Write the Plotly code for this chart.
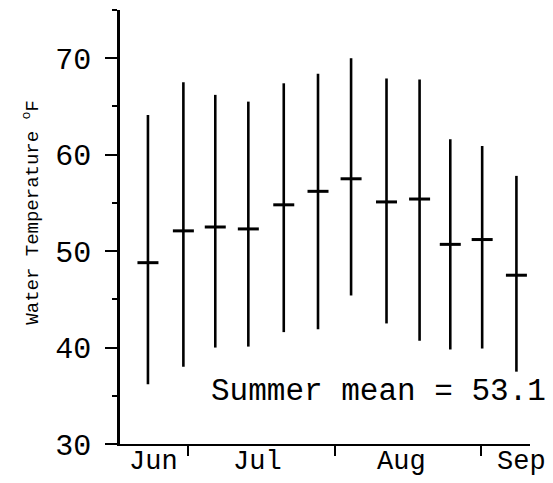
import plotly.graph_objects as go

# Weekly sampling dates (approximate)
dates = ["1965-06-22 12:00", "1965-06-30 00:00", "1965-07-06 18:00", "1965-07-13 18:00",
         "1965-07-21 06:00", "1965-07-28 12:00", "1965-08-04 12:00", "1965-08-12 00:00",
         "1965-08-19 00:00", "1965-08-25 12:00", "1965-09-01 06:00", "1965-09-08 12:00"]
temp_max = [64.1, 67.5, 66.2, 65.5, 67.4, 68.4, 70.0, 67.9, 67.8, 61.6, 60.9, 57.8]
temp_mean = [48.8, 52.1, 52.5, 52.3, 54.8, 56.2, 57.5, 55.1, 55.4, 50.7, 51.2, 47.5]
temp_min = [36.2, 38.0, 40.0, 40.1, 41.6, 41.9, 45.4, 42.5, 40.7, 39.8, 39.9, 37.5]

month_labels = ["Jun", "Jul", "Aug", "Sep"]
month_label_pos = ["1965-06-23 14:00", "1965-07-15 18:00", "1965-08-15 06:00", "1965-09-09 12:00"]
month_bounds = ["1965-07-01", "1965-08-01", "1965-09-01"]
y_ticks = [30, 40, 50, 60, 70]
summer_mean = 53.1

FONT = "Liberation Mono, Courier New, monospace"

fig = go.Figure()
fig.add_trace(go.Scatter(
    x=dates, y=temp_mean, mode="markers",
    marker=dict(symbol="line-ew", size=15, line=dict(width=3, color="black"), color="black"),
    error_y=dict(type="data", symmetric=False,
                 array=[h - m for h, m in zip(temp_max, temp_mean)],
                 arrayminus=[m - l for m, l in zip(temp_mean, temp_min)],
                 color="black", thickness=2.6, width=0),
    showlegend=False, cliponaxis=False,
))

fig.update_layout(
    width=545, height=475,
    margin=dict(l=112, r=23, t=2, b=39),
    paper_bgcolor="white", plot_bgcolor="white",
    font=dict(family=FONT, color="black"),
    xaxis=dict(
        type="date", range=["1965-06-16 14:00", "1965-09-11 09:00"], automargin=False,
        showgrid=False, zeroline=False, showline=True, linecolor="black", linewidth=2,
        tickmode="array", tickvals=month_bounds, ticktext=["", "", ""],
        ticks="outside", ticklen=10, tickwidth=2, tickcolor="black",
    ),
    yaxis=dict(
        range=[30, 75], showgrid=False, zeroline=False, showline=True, automargin=False,
        linecolor="black", linewidth=2.5,
        tickmode="array", tickvals=y_ticks, ticktext=[str(v) for v in y_ticks],
        ticks="outside", ticklen=12, tickwidth=2, tickcolor="black",
        tickfont=dict(size=30, family=FONT), ticklabelstandoff=8,
        minor=dict(tickvals=[35, 45, 55, 65, 75], ticks="outside", ticklen=5,
                   tickwidth=2, tickcolor="black"),
    ),
)

fig.add_annotation(x=-0.215, y=0.535, xref="paper", yref="paper",
                   text="Water Temperature <sup>o</sup>F", showarrow=False, textangle=-90,
                   xanchor="center", yanchor="middle",
                   font=dict(size=19, family=FONT, color="black"))

for lab, pos in zip(month_labels, month_label_pos):
    fig.add_annotation(x=pos, y=0, xref="x", yref="paper", text=lab, showarrow=False,
                       xanchor="center", yanchor="top", yshift=-1,
                       font=dict(size=27, family=FONT, color="black"))

fig.add_annotation(x=1.043, y=0.12, xref="paper", yref="paper",
                   text=f"Summer mean = {summer_mean}", showarrow=False,
                   xanchor="right", yanchor="middle",
                   font=dict(size=31, family=FONT, color="black"))

fig.write_html("out.html")
